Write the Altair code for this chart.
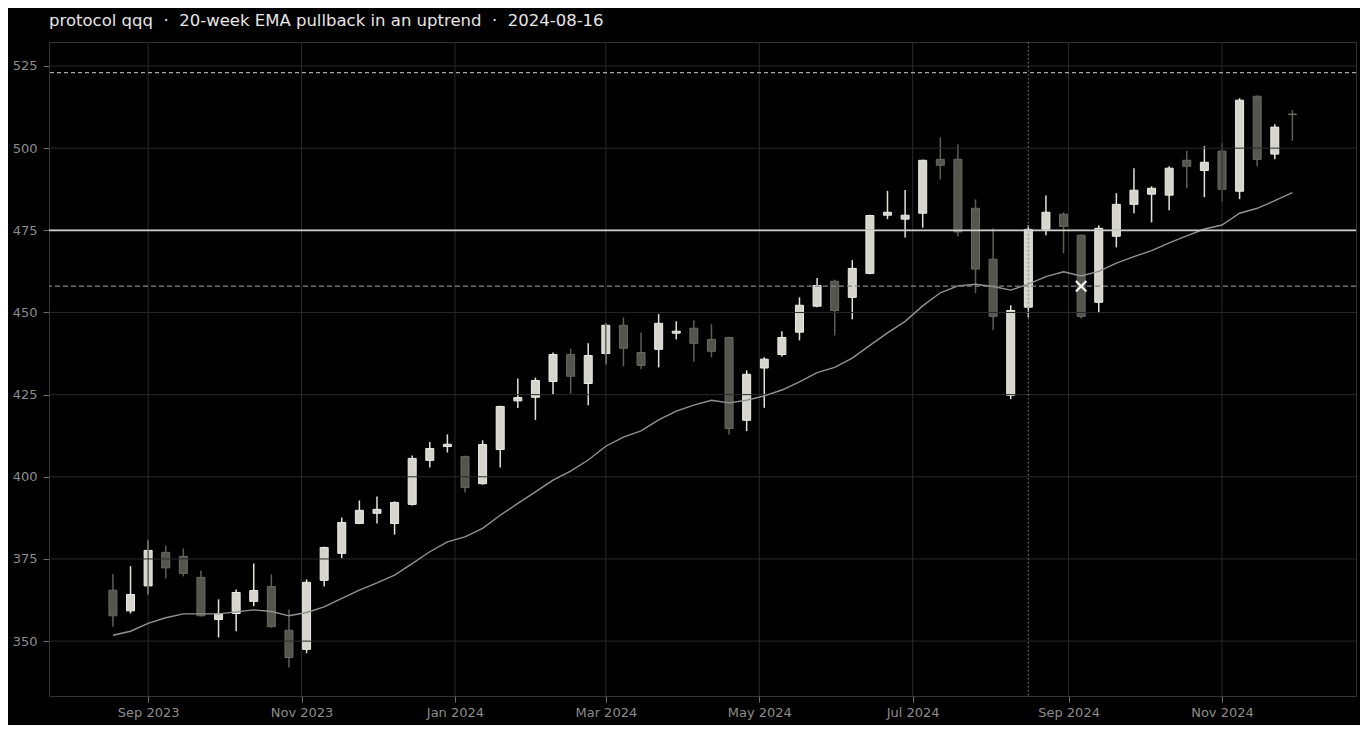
import altair as alt
import pandas as pd

# ---- data ----
dates = [
    "2023-08-18", "2023-08-25", "2023-09-01", "2023-09-08", "2023-09-15", "2023-09-22",
    "2023-09-29", "2023-10-06", "2023-10-13", "2023-10-20", "2023-10-27", "2023-11-03",
    "2023-11-10", "2023-11-17", "2023-11-24", "2023-12-01", "2023-12-08", "2023-12-15",
    "2023-12-22", "2023-12-29", "2024-01-05", "2024-01-12", "2024-01-19", "2024-01-26",
    "2024-02-02", "2024-02-09", "2024-02-16", "2024-02-23", "2024-03-01", "2024-03-08",
    "2024-03-15", "2024-03-22", "2024-03-29", "2024-04-05", "2024-04-12", "2024-04-19",
    "2024-04-26", "2024-05-03", "2024-05-10", "2024-05-17", "2024-05-24", "2024-05-31",
    "2024-06-07", "2024-06-14", "2024-06-21", "2024-06-28", "2024-07-05", "2024-07-12",
    "2024-07-19", "2024-07-26", "2024-08-02", "2024-08-09", "2024-08-16", "2024-08-23",
    "2024-08-30", "2024-09-06", "2024-09-13", "2024-09-20", "2024-09-27", "2024-10-04",
    "2024-10-11", "2024-10-18", "2024-10-25", "2024-11-01", "2024-11-08", "2024-11-15",
    "2024-11-22", "2024-11-29",
]
opens = [
    365.5, 359.2, 366.8, 377.0, 375.8, 369.4, 356.6, 358.4, 362.1, 366.6, 353.3, 347.5,
    368.5, 376.7, 385.8, 388.9, 385.8, 391.6, 405.0, 409.2, 406.2, 397.9, 408.3, 423.1,
    424.2, 429.0, 437.2, 428.4, 437.5, 446.1, 437.8, 438.8, 443.7, 445.2, 441.8, 442.4,
    417.2, 433.1, 437.2, 444.0, 451.9, 459.5, 454.6, 461.9, 479.6, 478.4, 480.2, 496.6,
    496.6, 481.7, 466.2, 424.8, 451.6, 475.3, 479.9, 473.5, 453.1, 473.2, 482.9, 486.0,
    485.7, 496.3, 493.2, 499.1, 486.9, 515.8, 498.2, 510.4,
]
highs = [
    370.4, 372.8, 380.7, 379.1, 378.2, 371.5, 362.7, 365.7, 373.6, 370.3, 359.6, 368.8,
    378.7, 387.6, 392.8, 394.0, 392.5, 406.5, 410.6, 412.9, 406.4, 411.1, 421.6, 429.9,
    430.2, 437.8, 439.0, 440.6, 446.7, 448.5, 443.9, 449.5, 447.3, 447.6, 446.4, 442.6,
    432.4, 436.4, 444.3, 454.6, 460.5, 460.0, 465.9, 479.7, 487.0, 487.3, 496.5, 503.3,
    501.1, 484.4, 475.6, 452.2, 476.5, 485.6, 480.5, 473.7, 476.5, 486.3, 493.9, 488.4,
    494.5, 499.1, 500.6, 501.5, 515.2, 516.0, 507.3, 511.6,
]
lows = [
    354.4, 358.4, 364.2, 369.1, 369.7, 357.5, 351.1, 353.0, 360.6, 354.1, 342.0, 346.3,
    366.6, 375.2, 385.6, 385.8, 382.4, 391.3, 402.8, 407.4, 395.2, 397.6, 402.8, 420.9,
    417.3, 425.0, 425.3, 421.8, 434.2, 433.6, 432.7, 433.3, 441.8, 435.1, 436.4, 412.9,
    413.9, 421.0, 436.6, 441.5, 451.6, 443.0, 447.9, 461.6, 478.4, 472.8, 475.8, 490.5,
    473.2, 455.9, 444.6, 423.6, 448.5, 473.5, 468.0, 448.2, 449.8, 469.8, 480.2, 477.4,
    481.1, 487.8, 485.1, 483.8, 484.5, 494.5, 496.6, 502.2,
]
closes = [
    357.7, 364.2, 377.6, 372.3, 370.6, 357.7, 358.3, 364.8, 365.4, 354.4, 345.0, 367.9,
    378.5, 386.1, 389.8, 390.1, 392.2, 405.6, 408.6, 409.9, 396.7, 409.8, 421.4, 424.1,
    429.3, 437.2, 430.6, 436.9, 446.1, 439.1, 433.9, 446.7, 444.3, 440.6, 438.2, 414.7,
    431.2, 435.8, 442.4, 452.2, 458.2, 450.6, 463.4, 479.5, 480.5, 479.6, 496.3, 494.8,
    474.5, 463.2, 448.8, 450.6, 475.3, 480.5, 476.2, 448.8, 475.6, 482.9, 487.2, 487.8,
    493.9, 494.5, 495.7, 487.5, 514.6, 496.6, 506.4, 510.2,
]
ema20 = [
    351.8, 353.0, 355.4, 357.1, 358.3, 358.3, 358.3, 358.9, 359.5, 359.0, 357.7, 358.7,
    360.4, 363.0, 365.5, 367.7, 370.1, 373.6, 377.2, 380.2, 381.7, 384.3, 388.3, 391.9,
    395.4, 399.0, 401.7, 405.1, 409.3, 412.1, 414.0, 417.3, 420.0, 421.8, 423.3, 422.5,
    423.3, 424.6, 426.4, 428.9, 431.7, 433.3, 436.1, 440.0, 443.8, 447.3, 452.0, 456.0,
    458.1, 458.6, 457.9, 456.8, 458.6, 460.9, 462.4, 461.1, 462.5, 465.0, 467.0, 468.8,
    471.2, 473.3, 475.4, 476.6, 480.2, 481.7, 484.0, 486.5,
]

# reference levels and annotations
upper_target = [523]
key_level = [475]
stop_level = [458]
signal_date = ["2024-08-16"]
entry_date = ["2024-09-06"]
entry_price = [458]

# axis ticks / grid positions
y_ticks = [350, 375, 400, 425, 450, 475, 500, 525]
x_ticks = ["2023-09-01", "2023-11-01", "2024-01-01", "2024-03-01",
           "2024-05-01", "2024-07-01", "2024-09-01", "2024-11-01"]

SEP = " \u00a0\u00b7\u00a0 "
TITLE = "protocol qqq" + SEP + "20-week EMA pullback in an uptrend" + SEP + "2024-08-16"

# ---- build tables ----
df = pd.DataFrame({"date": dates, "open": opens, "high": highs,
                   "low": lows, "close": closes, "ema": ema20})
df["up"] = df["close"] >= df["open"]

UP_FILL, UP_STROKE, UP_WICK = "#d5d5ce", "#ededE8", "#e2e2dc"
DN_FILL, DN_STROKE, DN_WICK = "#55554f", "#6a6a64", "#5e5e58"
GRID = "#2a2a2a"

x_scale = alt.Scale(
    type="utc",
    padding=0,
    domain=[alt.DateTime(year=2023, month=7, date=23, hours=14, utc=True),
            alt.DateTime(year=2024, month=12, date=24, hours=7, utc=True)],
)
y_scale = alt.Scale(domain=[333.3, 532.3], zero=False, nice=False, padding=0)

x_axis = alt.Axis(
    title=None, format="%b %Y",
    tickCount=alt.TimeIntervalStep(interval="month", step=2),
)
y_axis = alt.Axis(title=None, values=y_ticks)

NOTITLE = alt.Axis(title=None)

base = alt.Chart(df)

wicks = base.mark_rule(strokeWidth=1.5).encode(
    x=alt.X("date:T", scale=x_scale, axis=x_axis),
    y=alt.Y("low:Q", scale=y_scale, axis=y_axis),
    y2="high:Q",
    color=alt.condition("datum.up", alt.value(UP_WICK), alt.value(DN_WICK)),
)

bodies = base.mark_bar(width=8, strokeWidth=1).encode(
    x=alt.X("date:T", axis=NOTITLE),
    y=alt.Y("open:Q", axis=NOTITLE),
    y2="close:Q",
    fill=alt.condition("datum.up", alt.value(UP_FILL), alt.value(DN_FILL)),
    stroke=alt.condition("datum.up", alt.value(UP_STROKE), alt.value(DN_STROKE)),
)

grid_h = alt.Chart(pd.DataFrame({"v": y_ticks})).mark_rule(
    color=GRID, strokeWidth=1).encode(y=alt.Y("v:Q", axis=NOTITLE))
grid_v = alt.Chart(pd.DataFrame({"d": x_ticks})).mark_rule(
    color=GRID, strokeWidth=1).encode(x=alt.X("d:T", axis=NOTITLE))

signal_line = alt.Chart(pd.DataFrame({"d": signal_date})).mark_rule(
    color="#7a7a7a", strokeWidth=1, strokeDash=[1.5, 2.5]).encode(
    x=alt.X("d:T", axis=NOTITLE))

ema_line = base.mark_line(color="#939393", strokeWidth=1.4).encode(
    x=alt.X("date:T", axis=NOTITLE), y=alt.Y("ema:Q", axis=NOTITLE))

upper = alt.Chart(pd.DataFrame({"v": upper_target})).mark_rule(
    color="#a8a8a8", strokeWidth=1.2, strokeDash=[4, 3]).encode(
    y=alt.Y("v:Q", axis=NOTITLE))
key = alt.Chart(pd.DataFrame({"v": key_level})).mark_rule(
    color="#d0d0cc", strokeWidth=1.8).encode(y=alt.Y("v:Q", axis=NOTITLE))
stop = alt.Chart(pd.DataFrame({"v": stop_level})).mark_rule(
    color="#858585", strokeWidth=1.3, strokeDash=[5, 3]).encode(
    y=alt.Y("v:Q", axis=NOTITLE))

marker = alt.Chart(pd.DataFrame({"d": entry_date, "p": entry_price})).mark_point(
    shape="M-1,-1L1,1M-1,1L1,-1", filled=False, stroke="#f2f2f2",
    strokeWidth=2.2, size=110, opacity=1,
).encode(x=alt.X("d:T", axis=NOTITLE), y=alt.Y("p:Q", axis=NOTITLE))

chart = alt.layer(
    wicks, bodies, grid_h, grid_v, signal_line, ema_line, upper, key, stop, marker
).properties(
    width=1307, height=654,
    autosize=alt.AutoSizeParams(type="none"),
    padding={"left": 41, "top": 34, "right": 4, "bottom": 29},
    background="#000000",
    title=alt.TitleParams(
        text=TITLE, anchor="start", frame="group", font="DejaVu Sans",
        fontSize=16.5, fontWeight="normal", color="#e6e6e6", offset=12,
    ),
).configure_axis(
    grid=False, domain=False,
    tickColor="#6e6e6e", tickSize=6, tickWidth=1,
    labelColor="#8c8c8c", labelFont="DejaVu Sans", labelFontSize=13,
).configure_axisX(labelPadding=4).configure_axisY(
    labelPadding=6, labelAlign="right"
).configure_view(
    stroke="#333333", strokeWidth=1, fill="#000000"
)

chart.save("out.html", embed_options={"renderer": "svg", "actions": False})
